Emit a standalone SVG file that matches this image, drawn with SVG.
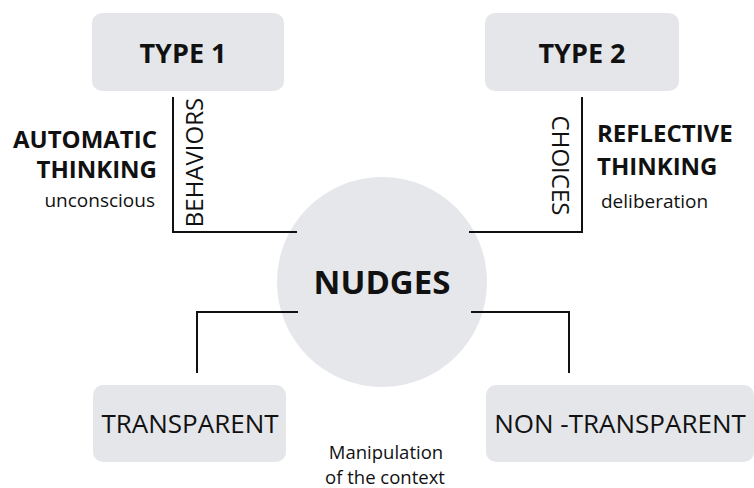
<svg xmlns="http://www.w3.org/2000/svg" width="754" height="488" viewBox="0 0 754 488">
<style>
.box{fill:#e4e6ea}
.t{font-family:"Open Sans","Liberation Sans",sans-serif;fill:#111}
.b{font-weight:bold}
.ln{fill:none;stroke:#111;stroke-width:2}
</style>
<rect width="754" height="488" fill="#fff"/>
<g id="type1">
<rect class="box" x="92" y="13" width="192" height="78" rx="10"/>
<text class="t b" x="183" y="63" font-size="27" text-anchor="middle">TYPE 1</text>
</g>
<g id="type2">
<rect class="box" x="485" y="13" width="194" height="78" rx="10"/>
<text class="t b" x="582" y="63" font-size="27" text-anchor="middle">TYPE 2</text>
</g>
<g id="nudges">
<circle cx="382" cy="282" r="105" fill="#e5e7eb"/>
<text class="t b" x="382" y="294" font-size="33" text-anchor="middle">NUDGES</text>
</g>
<g id="transparent">
<rect class="box" x="93" y="385" width="193" height="77" rx="10"/>
<text class="t" x="190" y="433" font-size="26" text-anchor="middle">TRANSPARENT</text>
</g>
<g id="non-transparent">
<rect class="box" x="486" y="385" width="268" height="77" rx="10"/>
<text class="t" x="620" y="433" font-size="26" text-anchor="middle">NON -TRANSPARENT</text>
</g>
<g id="connectors">
<polyline class="ln" points="173,97 173,232 297,232"/>
<polyline class="ln" points="582,97 582,232 469,232"/>
<polyline class="ln" points="298,312 197,312 197,373"/>
<polyline class="ln" points="471,312 569,312 569,373"/>
</g>
<g id="labels">
<text class="t" font-size="24" text-anchor="middle" transform="translate(203,162.5) rotate(-90)">BEHAVIORS</text>
<text class="t" font-size="24" text-anchor="middle" transform="translate(552,165.5) rotate(90)">CHOICES</text>
<text class="t b" x="157" y="148" font-size="24" text-anchor="end">AUTOMATIC</text>
<text class="t b" x="157" y="178" font-size="24" text-anchor="end">THINKING</text>
<text class="t" x="155" y="207" font-size="19" text-anchor="end">unconscious</text>
<text class="t b" x="597" y="142" font-size="24">REFLECTIVE</text>
<text class="t b" x="597" y="175" font-size="24">THINKING</text>
<text class="t" x="601" y="208" font-size="19">deliberation</text>
<text class="t" x="386" y="459" font-size="18.5" text-anchor="middle">Manipulation</text>
<text class="t" x="385" y="484" font-size="18.5" text-anchor="middle">of the context</text>
</g>
</svg>
